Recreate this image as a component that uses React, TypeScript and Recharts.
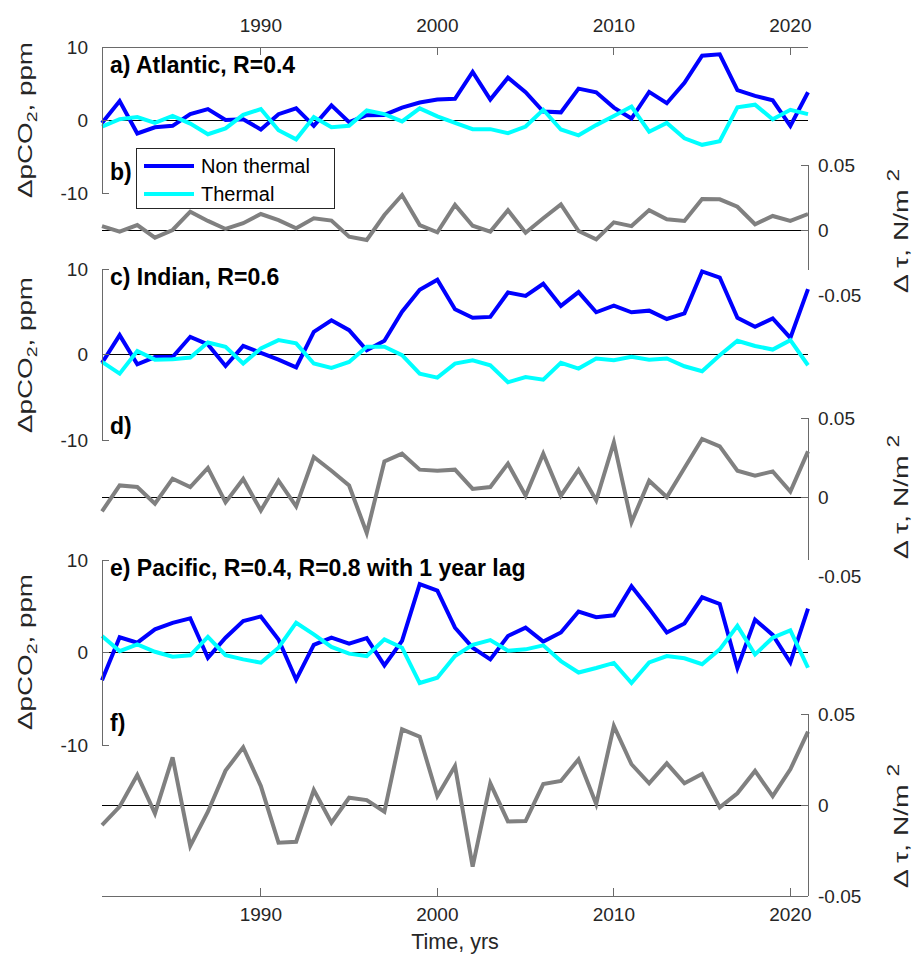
import React from 'react';
import { LineChart, Line, XAxis, YAxis, ReferenceLine, Legend, Customized } from 'recharts';

const years = [1981, 1982, 1983, 1984, 1985, 1986, 1987, 1988, 1989, 1990, 1991, 1992, 1993, 1994, 1995, 1996, 1997, 1998, 1999, 2000, 2001, 2002, 2003, 2004, 2005, 2006, 2007, 2008, 2009, 2010, 2011, 2012, 2013, 2014, 2015, 2016, 2017, 2018, 2019, 2020, 2021];

const atlNonThermal = [-0.4, 2.6, -1.85, -1.0, -0.8, 0.8, 1.5, 0.0, 0.1, -1.3, 0.8, 1.6, -0.8, 2.0, -0.3, 0.65, 0.7, 1.7, 2.4, 2.8, 2.9, 6.6, 2.8, 5.8, 3.8, 1.15, 1.05, 4.3, 3.8, 1.7, 0.2, 3.85, 2.3, 5.1, 8.8, 9.0, 4.1, 3.3, 2.7, -0.8, 3.8];
const atlThermal = [-0.9, 0.1, 0.4, -0.4, 0.55, -0.5, -1.95, -1.15, 0.7, 1.5, -1.4, -2.65, 0.4, -1.0, -0.8, 1.3, 0.8, -0.2, 1.6, 0.5, -0.4, -1.25, -1.25, -1.8, -0.9, 1.4, -1.3, -2.1, -0.7, 0.55, 1.85, -1.6, -0.4, -2.5, -3.4, -2.9, 1.75, 2.1, 0.1, 1.4, 0.8];
const atlTau = [0.003, -0.0012, 0.0038, -0.0059, 0, 0.0141, 0.007, 0.0008, 0.0052, 0.0123, 0.0076, 0.0013, 0.009, 0.0072, -0.0052, -0.0077, 0.0115, 0.0269, 0.0038, -0.0018, 0.0193, 0.0033, -0.0012, 0.0153, -0.0021, 0.009, 0.0197, -0.0008, -0.0072, 0.0059, 0.003, 0.0153, 0.0082, 0.007, 0.0238, 0.0236, 0.0179, 0.0044, 0.0108, 0.007, 0.0123];

const indNonThermal = [-1.0, 2.27, -1.15, -0.3, -0.3, 2.07, 1.17, -1.34, 1.0, 0.2, -0.6, -1.5, 2.66, 4.0, 2.85, 0.5, 1.6, 5.0, 7.56, 8.74, 5.3, 4.3, 4.4, 7.25, 6.86, 8.27, 5.68, 7.3, 4.94, 5.72, 4.94, 5.13, 4.15, 4.82, 9.72, 9.0, 4.3, 3.25, 4.23, 1.95, 7.65];
const indThermal = [-0.87, -2.24, 0.42, -0.6, -0.55, -0.36, 1.4, 0.9, -1.06, 0.7, 1.68, 1.3, -1.06, -1.57, -0.87, 0.9, 0.9, -0.08, -2.24, -2.7, -1.06, -0.67, -1.26, -3.25, -2.63, -2.94, -0.98, -1.65, -0.47, -0.67, -0.28, -0.6, -0.47, -1.38, -1.96, -0.08, 1.6, 1.0, 0.58, 1.68, -1.26];
const indTau = [-0.0091, 0.0073, 0.0063, -0.0042, 0.0116, 0.0063, 0.0184, -0.0034, 0.0114, -0.0085, 0.0103, -0.0059, 0.0253, 0.0166, 0.0073, -0.0228, 0.0225, 0.0274, 0.0173, 0.0166, 0.0173, 0.0051, 0.0063, 0.0211, 0.0008, 0.0274, 0.0008, 0.0173, -0.0021, 0.0346, -0.016, 0.0103, 0.0, 0.0184, 0.0367, 0.032, 0.0166, 0.0135, 0.0162, 0.0035, 0.0289];

const pacNonThermal = [-3.0, 1.65, 1.06, 2.5, 3.2, 3.7, -0.57, 1.6, 3.4, 3.9, 1.41, -2.94, 0.82, 1.6, 0.96, 1.55, -1.39, 1.25, 7.4, 6.7, 2.68, 0.52, -0.74, 1.78, 2.68, 1.18, 2.16, 4.43, 3.81, 4.02, 7.16, 4.74, 2.16, 3.14, 5.97, 5.25, -1.68, 3.55, 1.9, -1.08, 4.74];
const pacThermal = [1.78, 0.15, 0.88, 0.08, -0.45, -0.31, 1.68, -0.28, -0.74, -1.1, 0.52, 3.22, 1.96, 0.6, -0.12, -0.38, 1.42, 0.52, -3.3, -2.73, -0.38, 0.82, 1.34, 0.2, 0.34, 0.77, -0.93, -2.16, -1.68, -1.13, -3.3, -1.08, -0.38, -0.62, -1.27, 0.34, 2.88, -0.21, 1.6, 2.4, -1.65];
const pacTau = [-0.011, -0.0009, 0.0165, -0.0046, 0.0262, -0.0225, -0.0037, 0.0189, 0.0317, 0.0104, -0.0207, -0.0202, 0.0082, -0.0097, 0.004, 0.0027, -0.0037, 0.0416, 0.0375, 0.0049, 0.0214, -0.0339, 0.0119, -0.009, -0.0088, 0.0115, 0.0132, 0.0251, 0.0005, 0.0434, 0.0224, 0.0119, 0.0229, 0.0119, 0.017, -0.0013, 0.0064, 0.0187, 0.0049, 0.0196, 0.0403];

const yearTicks = [1990, 2000, 2010, 2020];
const pco2Ticks = [-10, 0, 10];
const tauTicks = [-0.05, 0, 0.05];
const xDomain = [1981, 2021];
const pco2Domain = [-10, 10];
const tauDomain = [-0.05, 0.05];

const dataAtl = years.map((year, i) => ({ year, nt: atlNonThermal[i], th: atlThermal[i], tau: atlTau[i] }));
const dataInd = years.map((year, i) => ({ year, nt: indNonThermal[i], th: indThermal[i], tau: indTau[i] }));
const dataPac = years.map((year, i) => ({ year, nt: pacNonThermal[i], th: pacThermal[i], tau: pacTau[i] }));

const W = 921;
const H = 966;
const PL = 102;
const PR = 808;
const FONT = "'Liberation Sans', Arial, Helvetica, sans-serif";
const BLUE = '#0000ff';
const CYAN = '#00ffff';
const GRAY = '#808080';
const AXLINE = '#6a6a6a';
const TXT = '#262626';
const TICK_FS = 19;
const LW = 4;
const YW = 60;
const TM = 12;

const makeYTick = (side: 'left' | 'right', skip?: number) => (p: any) => {
  const v = p.payload.value;
  const y = p.y;
  const edge = side === 'left' ? p.x + TM : p.x - TM;
  const inward = side === 'left' ? 7 : -7;
  return (
    <g>
      {v !== skip && <line x1={edge} x2={edge + inward} y1={y} y2={y} stroke={AXLINE} strokeWidth={1} shapeRendering="crispEdges" />}
      <text x={side === 'left' ? edge - 14 : edge + 10} y={y} dy="0.36em" textAnchor={side === 'left' ? 'end' : 'start'} fontSize={TICK_FS} fontFamily={FONT} fill={TXT}>
        {String(v)}
      </text>
    </g>
  );
};

const makeXTick = (side: 'top' | 'bottom') => (p: any) => {
  const v = p.payload.value;
  const x = p.x;
  const edge = side === 'top' ? p.y + TM : p.y - TM;
  const inward = side === 'top' ? 8 : -8;
  return (
    <g>
      <line x1={x} x2={x} y1={edge} y2={edge + inward} stroke={AXLINE} strokeWidth={1} shapeRendering="crispEdges" />
      <text x={x} y={side === 'top' ? edge - 15 : edge + 25} textAnchor="middle" fontSize={TICK_FS} fontFamily={FONT} fill={TXT}>
        {String(v)}
      </text>
    </g>
  );
};

const LegendBox = (props: any) => {
  const payload = (props.payload || []) as any[];
  return (
    <div style={{ width: 197, height: 59, border: '1px solid #262626', background: '#fff', boxSizing: 'content-box', fontFamily: FONT }}>
      <svg width={197} height={59}>
        {payload.map((item, i) => (
          <g key={i}>
            <line x1={7} x2={57} y1={17 + i * 28} y2={17 + i * 28} stroke={item.color} strokeWidth={LW} />
            <text x={64} y={17 + i * 28} dy="0.36em" fontSize={20} fontFamily={FONT} fill="#000">{item.value}</text>
          </g>
        ))}
      </svg>
    </div>
  );
};

const Title = ({ x, y, text }: { x: number; y: number; text: string }) => (
  <text x={x} y={y} fontSize={23} fontWeight="bold" fontFamily={FONT} fill="#000">{text}</text>
);

const LeftLabel = ({ cy }: { cy: number }) => (
  <text transform={`translate(32, ${cy}) rotate(-90)`} textAnchor="middle" fontSize={20} fontFamily={FONT} fill={TXT} textLength={156} lengthAdjust="spacingAndGlyphs">
    ΔpCO<tspan fontSize={14} dy={5}>2</tspan><tspan dy={-5}>, ppm</tspan>
  </text>
);

const RightLabel = ({ cy }: { cy: number }) => (
  <text transform={`translate(908, ${cy}) rotate(-90)`} textAnchor="middle" fontSize={20} fontFamily={FONT} fill={TXT} textLength={124} lengthAdjust="spacingAndGlyphs">
    Δ τ, N/m <tspan fontSize={16} dy={-9}>2</tspan>
  </text>
);

type PanelProps = {
  data: any[];
  top: number;
  bottom: number;
  kind: 'pco2' | 'tau';
  xAxis?: 'top' | 'bottom';
  axisEnd?: number;
  children?: React.ReactNode;
};

const Panel = ({ data, top, bottom, kind, xAxis, axisEnd, children }: PanelProps) => {
  const xh = 30;
  const margin = {
    top: xAxis === 'top' ? top - xh : top,
    bottom: xAxis === 'bottom' ? H - bottom - xh : H - bottom,
    left: kind === 'pco2' ? PL - YW : PL,
    right: kind === 'tau' ? W - PR - YW : W - PR,
  };
  return (
    <div style={{ position: 'absolute', left: 0, top: 0, width: W, height: H }}>
      <LineChart width={W} height={H} data={data} margin={margin}>
        <XAxis
          dataKey="year"
          type="number"
          domain={xDomain}
          ticks={yearTicks}
          interval={0}
          hide={!xAxis}
          orientation={xAxis || 'bottom'}
          height={xh}
          tickSize={0}
          tickMargin={TM}
          tickLine={false}
          axisLine={{ stroke: AXLINE, strokeWidth: 1, shapeRendering: 'crispEdges' }}
          tick={makeXTick(xAxis || 'bottom')}
        />
        {kind === 'pco2' ? (
          <YAxis
            type="number"
            domain={pco2Domain}
            ticks={pco2Ticks}
            interval={0}
            orientation="left"
            width={YW}
            tickSize={0}
            tickMargin={TM}
            tickLine={false}
            axisLine={{ stroke: AXLINE, strokeWidth: 1, shapeRendering: 'crispEdges' }}
            tick={makeYTick('left')}
          />
        ) : (
          <YAxis
            type="number"
            domain={tauDomain}
            ticks={tauTicks}
            interval={0}
            orientation="right"
            width={YW}
            tickSize={0}
            tickMargin={TM}
            tickLine={false}
            axisLine={axisEnd === undefined ? { stroke: AXLINE, strokeWidth: 1, shapeRendering: 'crispEdges' } : false}
            tick={makeYTick('right', axisEnd === undefined ? undefined : -0.05)}
          />
        )}
        {kind === 'tau' && axisEnd !== undefined && (
          <ReferenceLine
            segment={[{ x: 2021, y: 0.05 }, { x: 2021, y: axisEnd }]}
            stroke={AXLINE}
            strokeWidth={1}
            ifOverflow="visible"
            shapeRendering="crispEdges"
          />
        )}
        <ReferenceLine y={0} stroke="#000" strokeWidth={1} shapeRendering="crispEdges" />
        {kind === 'pco2' ? (
          [
            <Line key="nt" type="linear" dataKey="nt" name="Non thermal" stroke={BLUE} strokeWidth={LW} dot={false} activeDot={false} isAnimationActive={false} />,
            <Line key="th" type="linear" dataKey="th" name="Thermal" stroke={CYAN} strokeWidth={LW} dot={false} activeDot={false} isAnimationActive={false} />,
          ]
        ) : (
          <Line type="linear" dataKey="tau" name="tau" stroke={GRAY} strokeWidth={LW} dot={false} activeDot={false} isAnimationActive={false} />
        )}
        {children}
      </LineChart>
    </div>
  );
};

export default function App() {
  return (
    <div style={{ position: 'absolute', left: 0, top: 0, width: W, height: H, background: '#fff' }}>
      <Panel data={dataAtl} top={165} bottom={295} kind="tau" axisEnd={-0.031}>
        <Customized component={() => (
          <g>
            <Title x={110} y={180} text="b)" />
            <RightLabel cy={231} />
          </g>
        )} />
      </Panel>
      <Panel data={dataInd} top={418} bottom={576} kind="tau" axisEnd={-0.04}>
        <Customized component={() => (
          <g>
            <Title x={110} y={434} text="d)" />
            <RightLabel cy={497} />
          </g>
        )} />
      </Panel>
      <Panel data={dataPac} top={714} bottom={896} kind="tau" xAxis="bottom">
        <Customized component={() => (
          <g>
            <Title x={110} y={731} text="f)" />
            <RightLabel cy={826} />
            <text x={455} y={949} textAnchor="middle" fontSize={21.5} fontFamily={FONT} fill={TXT}>Time, yrs</text>
          </g>
        )} />
      </Panel>
      <Panel data={dataAtl} top={47} bottom={193} kind="pco2" xAxis="top">
        <Legend
          layout="vertical"
          align="center"
          verticalAlign="middle"
          wrapperStyle={{ left: 136, top: 148, width: 199, height: 61 }}
          content={<LegendBox />}
        />
        <Customized component={() => (
          <g>
            <Title x={110} y={73} text="a) Atlantic, R=0.4" />
            <LeftLabel cy={120} />
          </g>
        )} />
      </Panel>
      <Panel data={dataInd} top={269} bottom={440} kind="pco2">
        <Customized component={() => (
          <g>
            <Title x={110} y={285} text="c) Indian, R=0.6" />
            <LeftLabel cy={355} />
          </g>
        )} />
      </Panel>
      <Panel data={dataPac} top={560} bottom={745} kind="pco2">
        <Customized component={() => (
          <g>
            <Title x={110} y={576} text="e) Pacific, R=0.4, R=0.8 with 1 year lag" />
            <LeftLabel cy={652} />
          </g>
        )} />
      </Panel>
    </div>
  );
}
